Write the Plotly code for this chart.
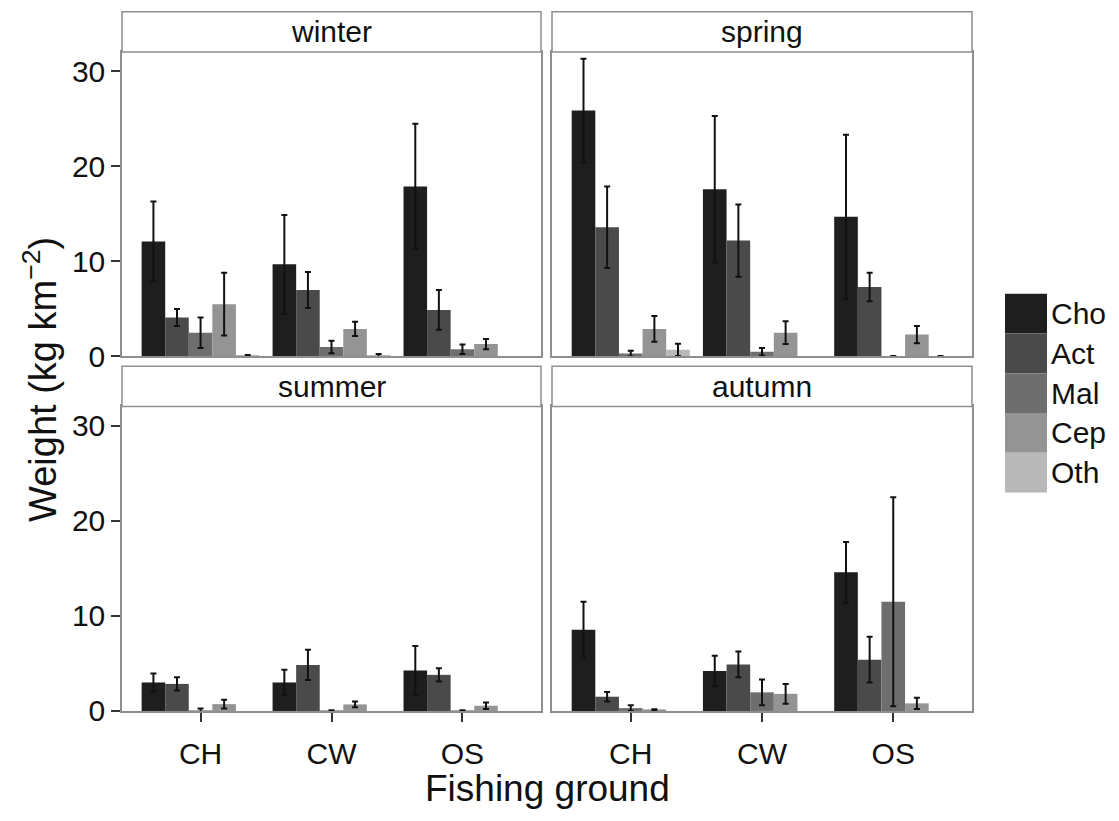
import plotly.graph_objects as go

W, H = 1119, 821

grounds = ["CH", "CW", "OS"]
groups = ["Cho", "Act", "Mal", "Cep", "Oth"]
seasons = ["winter", "spring", "summer", "autumn"]
colors = ["#1e1e1e", "#4a4a4a", "#6e6e6e", "#949494", "#b8b8b8"]
y_ticks = [0, 10, 20, 30]

# rows: Cho, Act, Mal, Cep, Oth ; columns: CH, CW, OS
winter_mean = [[12.1, 9.7, 17.9], [4.1, 7.0, 4.9], [2.5, 1.0, 0.75], [5.5, 2.9, 1.3], [0.1, 0.1, None]]
winter_err = [[4.2, 5.2, 6.6], [0.9, 1.9, 2.1], [1.6, 0.65, 0.5], [3.3, 0.75, 0.55], [0.05, 0.15, None]]

spring_mean = [[25.9, 17.6, 14.7], [13.6, 12.2, 7.3], [0.3, 0.5, 0.05], [2.9, 2.5, 2.3], [0.7, None, 0.05]]
spring_err = [[5.45, 7.7, 8.65], [4.3, 3.8, 1.5], [0.3, 0.4, 0.0], [1.35, 1.2, 0.9], [0.65, None, 0.0]]

summer_mean = [[3.0, 3.0, 4.25], [2.85, 4.85, 3.8], [0.05, 0.02, 0.02], [0.72, 0.69, 0.55], [None, None, None]]
summer_err = [[0.95, 1.35, 2.6], [0.7, 1.6, 0.7], [0.2, 0.05, 0.05], [0.45, 0.3, 0.35], [None, None, None]]

autumn_mean = [[8.55, 4.2, 14.6], [1.5, 4.9, 5.4], [0.3, 1.96, 11.5], [0.1, 1.8, 0.8], [None, None, None]]
autumn_err = [[2.95, 1.6, 3.2], [0.5, 1.35, 2.4], [0.3, 1.35, 11.0], [0.08, 1.05, 0.6], [None, None, None]]

means = [winter_mean, spring_mean, summer_mean, autumn_mean]
errs = [winter_err, spring_err, summer_err, autumn_err]

FONT = "Liberation Sans, Arial, Helvetica, sans-serif"
BORDER = "#8f8f8f"

# panel pixel boxes
col_px = [(122, 541), (552, 972)]
row_px = [(53, 364), (415, 726)]
strip_px = [(12, 53), (374, 415)]

fig = go.Figure()

for i, season in enumerate(seasons):
    n = "" if i == 0 else str(i + 1)
    for g, grp in enumerate(groups):
        fig.add_trace(go.Bar(
            x=list(range(len(grounds))),
            y=means[i][g],
            name=grp,
            marker=dict(color=colors[g], line=dict(width=0)),
            error_y=dict(type="data", array=errs[i][g], visible=True,
                         color="#111111", thickness=2, width=3),
            offsetgroup=grp,
            showlegend=False,
            xaxis="x" + n, yaxis="y" + n,
        ))

layout_axes = {}
shapes = []
annotations = []
for i, season in enumerate(seasons):
    r, c = divmod(i, 2)
    n = "" if i == 0 else str(i + 1)
    x0, x1 = col_px[c]
    t, b = row_px[r]
    bottom = (r == 1)
    left = (c == 0)
    layout_axes["xaxis" + n] = dict(
        domain=[x0 / W, x1 / W], anchor="y" + n,
        range=[-0.6, 2.6], tickvals=list(range(len(grounds))), ticktext=grounds,
        showticklabels=bottom, ticks="outside" if bottom else "",
        ticklen=9, tickwidth=1.5, tickcolor="#333333", ticklabelstandoff=6,
        tickfont=dict(family=FONT, size=30, color="#111111"),
        showline=True, mirror=True, linecolor=BORDER, linewidth=1.5,
        showgrid=False, zeroline=False, fixedrange=True,
    )
    layout_axes["yaxis" + n] = dict(
        domain=[1 - b / H, 1 - t / H], anchor="x" + n,
        range=[0, 32.06], tickvals=y_ticks,
        showticklabels=left, ticks="outside" if left else "",
        ticklen=9, tickwidth=1.5, tickcolor="#333333",
        tickfont=dict(family=FONT, size=30, color="#111111"),
        showline=True, mirror=True, linecolor=BORDER, linewidth=1.5,
        showgrid=False, zeroline=False, fixedrange=True,
    )
    st, sb = strip_px[r]
    shapes.append(dict(type="rect", xref="paper", yref="paper",
                       x0=x0 / W, x1=x1 / W, y0=1 - sb / H, y1=1 - st / H,
                       fillcolor="white", line=dict(color=BORDER, width=1.5), layer="above"))
    annotations.append(dict(text=season, xref="paper", yref="paper",
                            x=(x0 + x1) / 2 / W, y=1 - (st + sb) / 2 / H,
                            xanchor="center", yanchor="middle", showarrow=False,
                            font=dict(family=FONT, size=30, color="#111111")))

# legend drawn as keys + labels
key_x0, key_x1 = 1005, 1047
key_top, key_h = 300, 40.6
for g, grp in enumerate(groups):
    y0 = key_top + g * key_h
    shapes.append(dict(type="rect", xref="paper", yref="paper",
                       x0=key_x0 / W, x1=key_x1 / W,
                       y0=1 - (y0 + key_h) / H, y1=1 - y0 / H,
                       fillcolor=colors[g], line=dict(width=0)))
    annotations.append(dict(text=grp, xref="paper", yref="paper",
                            x=1049 / W, y=1 - (y0 + key_h / 2) / H,
                            xanchor="left", yanchor="middle", showarrow=False,
                            font=dict(family=FONT, size=30, color="#111111")))

annotations.append(dict(text="Fishing ground", xref="paper", yref="paper",
                        x=547 / W, y=1 - 805 / H, xanchor="center", yanchor="middle",
                        showarrow=False, font=dict(family=FONT, size=37, color="#111111")))
annotations.append(dict(text="Weight (kg km<sup>\u22122</sup>)", xref="paper", yref="paper",
                        x=40 / W, y=1 - 388 / H, xanchor="center", yanchor="middle",
                        textangle=-90, showarrow=False,
                        font=dict(family=FONT, size=38, color="#111111")))

fig.update_layout(
    width=W, height=H,
    margin=dict(l=0, r=0, t=0, b=0),
    paper_bgcolor="white", plot_bgcolor="white",
    barmode="group", bargap=0.1, bargroupgap=0,
    shapes=shapes, annotations=annotations,
    showlegend=False,
    **layout_axes,
)

fig.write_html(
    "out.html",
    config={"displayModeBar": False},
    post_script="document.body.style.margin='0px';document.documentElement.style.overflow='hidden';",
)
